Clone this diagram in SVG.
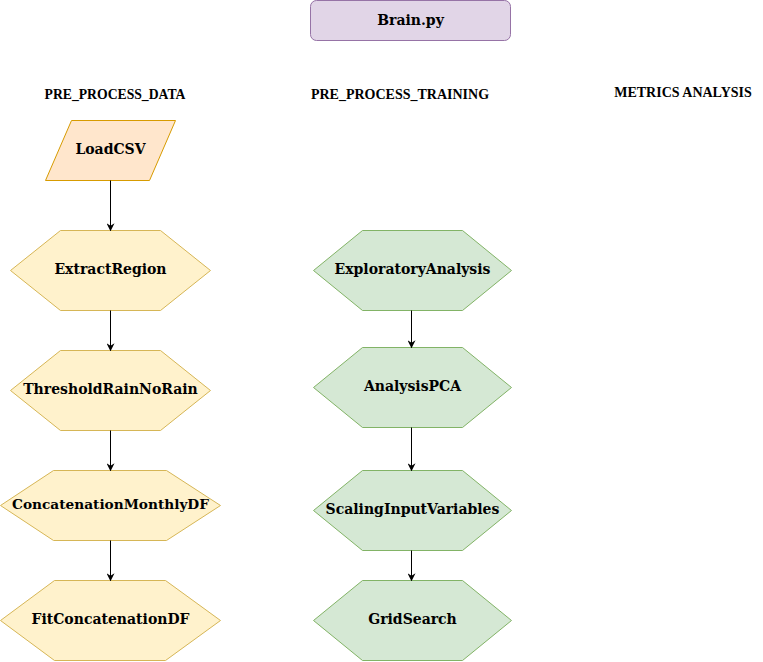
<svg xmlns="http://www.w3.org/2000/svg" width="763" height="662" viewBox="0 0 763 662">
  <style>
    .label { font-family: "DejaVu Serif", serif; font-weight: bold; font-size: 14px; fill: #000; text-anchor: middle; dominant-baseline: central; }
    .title { font-family: "Liberation Serif", serif; font-weight: bold; font-size: 14px; fill: #000; text-anchor: middle; dominant-baseline: central; }
    .proc { fill: #fff2cc; stroke: #d6b656; stroke-width: 1; }
    .train { fill: #d5e8d4; stroke: #82b366; stroke-width: 1; }
    .io { fill: #ffe6cc; stroke: #d79b00; stroke-width: 1; }
    .main { fill: #e1d5e7; stroke: #9673a6; stroke-width: 1; }
    .edge { fill: none; stroke: #000; stroke-width: 1; marker-end: url(#arrow); }
  </style>
  <defs>
    <marker id="arrow" viewBox="0 0 10 10" refX="9" refY="5" markerWidth="8" markerHeight="8" markerUnits="userSpaceOnUse" orient="auto">
      <path d="M0,0 L10,5 L0,10 L3,5 Z" fill="#000"/>
    </marker>
  </defs>

  <rect width="763" height="662" fill="#fff"/>

  <g id="brain">
    <rect class="main" x="310.5" y="0.5" width="200" height="40" rx="6"/>
    <text class="label" x="410.5" y="19.5">Brain.py</text>
  </g>

  <g id="section-titles">
    <text class="title" x="115" y="94" style="font-size:13.7px">PRE_PROCESS_DATA</text>
    <text class="title" x="400" y="94">PRE_PROCESS_TRAINING</text>
    <text class="title" x="683" y="92">METRICS ANALYSIS</text>
  </g>

  <g id="load-csv">
    <polygon class="io" points="71.5,120.5 175.5,120.5 149.5,180.5 45.5,180.5"/>
    <text class="label" x="110.5" y="149">LoadCSV</text>
  </g>

  <g id="extract-region">
    <polygon class="proc" points="10.5,270.5 60.5,230.5 160.5,230.5 210.5,270.5 160.5,310.5 60.5,310.5"/>
    <text class="label" x="110.5" y="269">ExtractRegion</text>
  </g>

  <g id="threshold-rain">
    <polygon class="proc" points="10.5,390.5 60.5,350.5 160.5,350.5 210.5,390.5 160.5,430.5 60.5,430.5"/>
    <text class="label" x="110.5" y="389">ThresholdRainNoRain</text>
  </g>

  <g id="concat-monthly">
    <polygon class="proc" points="0.5,505.5 53.5,470.5 166.5,470.5 220.5,505.5 166.5,540.5 53.5,540.5"/>
    <text class="label" x="110.5" y="504" style="font-size:13.7px">ConcatenationMonthlyDF</text>
  </g>

  <g id="fit-concat">
    <polygon class="proc" points="0.5,620.5 54.5,580.5 165.5,580.5 220.5,620.5 165.5,660.5 54.5,660.5"/>
    <text class="label" x="110.5" y="619">FitConcatenationDF</text>
  </g>

  <g id="exploratory">
    <polygon class="train" points="313.5,270.5 362.5,230.5 462.5,230.5 511.5,270.5 462.5,310.5 362.5,310.5"/>
    <text class="label" x="412.5" y="269">ExploratoryAnalysis</text>
  </g>

  <g id="analysis-pca">
    <polygon class="train" points="313.5,387.5 362.5,347.5 462.5,347.5 511.5,387.5 462.5,427.5 362.5,427.5"/>
    <text class="label" x="412.5" y="386">AnalysisPCA</text>
  </g>

  <g id="scaling">
    <polygon class="train" points="313.5,510.5 362.5,470.5 462.5,470.5 511.5,510.5 462.5,550.5 362.5,550.5"/>
    <text class="label" x="412.5" y="509">ScalingInputVariables</text>
  </g>

  <g id="grid-search">
    <polygon class="train" points="313.5,620.5 362.5,580.5 462.5,580.5 511.5,620.5 462.5,660.5 362.5,660.5"/>
    <text class="label" x="412.5" y="619">GridSearch</text>
  </g>

  <g id="connectors">
    <line class="edge" x1="110.5" y1="180.5" x2="110.5" y2="230.5"/>
    <line class="edge" x1="110.5" y1="310.5" x2="110.5" y2="350.5"/>
    <line class="edge" x1="110.5" y1="430.5" x2="110.5" y2="470.5"/>
    <line class="edge" x1="110.5" y1="540.5" x2="110.5" y2="580.5"/>
    <line class="edge" x1="411.5" y1="310.5" x2="411.5" y2="347.5"/>
    <line class="edge" x1="411.5" y1="427.5" x2="411.5" y2="470.5"/>
    <line class="edge" x1="411.5" y1="550.5" x2="411.5" y2="580.5"/>
  </g>
</svg>
